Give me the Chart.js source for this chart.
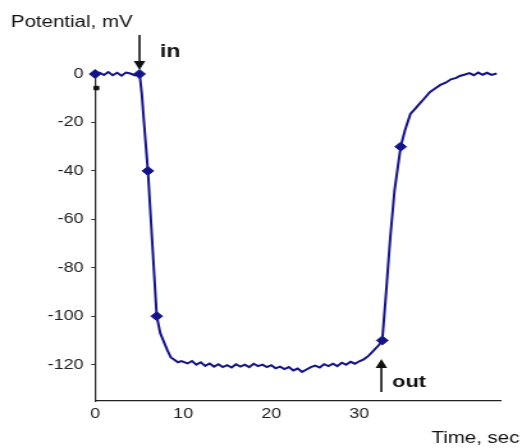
<!DOCTYPE html>
<html>
<head>
<meta charset="utf-8">
<script src="https://cdn.jsdelivr.net/npm/chart.js@4"></script>
<style>
    html, body { margin: 0; padding: 0; background: #fff; }
    /* the source picture is stretched sideways, so the canvas is too */
    #chart { width: 522px !important; height: 448px !important; display: block; }
</style>
</head>
<body>
<canvas id="chart" width="408" height="448" style="width:522px;height:448px"></canvas>
<script>
// data
var time = [0, 0.5, 1, 1.5, 2, 2.5, 3, 3.5, 4, 4.5, 5, 5.1, 5.3, 5.6, 6.0, 6.5, 7.0, 7.4, 7.8, 8.2, 8.6, 9.0, 9.4, 9.8,
    10.5, 11, 11.5, 12, 12.5, 13, 13.5, 14, 14.5, 15, 15.5, 16, 16.5, 17, 17.5, 18, 18.5, 19, 19.5, 20,
    20.5, 21, 21.5, 22, 22.5, 23, 23.5, 24, 24.5, 25, 25.5, 26, 26.5, 27, 27.5, 28, 28.5, 29, 29.5, 30, 30.5, 31,
    31.4, 31.8, 32.2, 32.6, 33.0, 33.5, 34.0, 34.7, 35.2, 35.8, 36.3, 36.9, 37.4, 38, 38.6, 39.2, 39.8, 40.4,
    41, 41.4, 42, 42.5, 43, 43.5, 44, 44.5, 45, 45.6];
var potential = [0, 0.6, -0.4, 0.8, -0.5, 0.5, -0.7, 0.6, 0.2, -0.5, 0.6, -1.5, -8, -22, -40, -70, -100, -107, -110.5, -114, -117, -118, -119, -118.5,
    -119.5, -118.5, -120, -119, -120.5, -119.5, -120.8, -119.8, -121, -120.2, -121.2, -119.8, -120.8, -120, -121, -119.6, -120.6, -120, -121, -120.2,
    -121.5, -120.8, -121.8, -121, -122.4, -121.6, -123, -122, -121, -120.4, -121.2, -119.8, -120.6, -119.6, -120.6, -119.2, -120, -118.8, -119.6, -118.6, -117.8, -116.5,
    -115, -113.5, -112, -110, -92, -68, -48, -30, -23, -16.5, -14.5, -12, -10, -7.5, -6, -4.5, -3.6, -2.2,
    -1.6, -0.8, -0.2, 0.4, -0.5, 0.6, -0.3, 0.5, -0.4, 0.2];

var markerTime = [0, 5.05, 6.0, 7.0, 32.6, 34.7];
var markerPotential = [0, 0, -40, -100, -110, -30];

var strayTime = [0.15];
var strayPotential = [-5.8];

var xTicks = [0, 10, 20, 30];
var yTicks = [0, -20, -40, -60, -80, -100, -120];

var inTime = 5.05;
var outTime = 32.5;

var navy = '#14148a';
var fontName = '"Liberation Sans", Arial, sans-serif';

function toPoints(xs, ys) {
    var pts = [];
    for (var i = 0; i < xs.length; i++) {
        pts.push({ x: xs[i], y: ys[i] });
    }
    return pts;
}

function drawArrow(ctx, px, yTail, yTip) {
    var dir = yTip > yTail ? 1 : -1;
    ctx.beginPath();
    ctx.moveTo(px, yTail);
    ctx.lineTo(px, yTip - dir * 6);
    ctx.stroke();
    ctx.beginPath();
    ctx.moveTo(px, yTip);
    ctx.lineTo(px - 4.5, yTip - dir * 9);
    ctx.lineTo(px + 4.5, yTip - dir * 9);
    ctx.closePath();
    ctx.fill();
}

var labelsPlugin = {
    id: 'labels',
    afterDraw: function(chart) {
        var ctx = chart.ctx;
        var xs = chart.scales.x;
        var inX = xs.getPixelForValue(inTime);
        var outX = xs.getPixelForValue(outTime);

        ctx.save();
        ctx.fillStyle = '#111';
        ctx.strokeStyle = '#111';
        ctx.lineWidth = 1.6;
        ctx.textBaseline = 'alphabetic';

        ctx.font = '16px ' + fontName;
        ctx.textAlign = 'left';
        ctx.fillText('Potential, mV', 8.5, 27);
        ctx.textAlign = 'right';
        ctx.fillText('Time, sec', 406, 443);

        drawArrow(ctx, inX, 35, 70);
        drawArrow(ctx, outX, 392, 359);

        ctx.font = 'bold 18px ' + fontName;
        ctx.textAlign = 'left';
        ctx.fillText('in', inX + 16, 57);
        ctx.font = 'bold 17px ' + fontName;
        ctx.fillText('out', outX + 8.5, 387);
        ctx.restore();
    }
};

var chart = new Chart(document.getElementById('chart'), {
    type: 'line',
    data: {
        datasets: [
            {
                data: toPoints(time, potential),
                borderColor: navy,
                borderWidth: 2,
                pointRadius: 0,
                tension: 0,
                clip: false
            },
            {
                data: toPoints(markerTime, markerPotential),
                showLine: false,
                pointStyle: 'rectRot',
                pointRadius: 4.5,
                backgroundColor: navy,
                borderColor: navy,
                clip: false
            },
            {
                data: toPoints(strayTime, strayPotential),
                showLine: false,
                pointStyle: 'rect',
                pointRadius: 2.5,
                backgroundColor: '#111',
                borderColor: '#111',
                clip: false
            }
        ]
    },
    options: {
        responsive: false,
        animation: false,
        devicePixelRatio: 1,
        layout: { padding: { left: 0, top: 74, right: 17, bottom: 0 } },
        plugins: {
            legend: { display: false },
            tooltip: { enabled: false }
        },
        scales: {
            x: {
                type: 'linear',
                min: 0,
                max: 46,
                afterBuildTicks: function(scale) {
                    scale.ticks = xTicks.map(function(v) { return { value: v }; });
                },
                afterFit: function(scale) { scale.height = 47; },
                grid: { display: false },
                border: { display: true, color: '#222', width: 1.2 },
                ticks: {
                    color: '#222',
                    font: { family: fontName, size: 14 },
                    padding: -3,
                    maxRotation: 0
                }
            },
            y: {
                min: -135,
                max: 0,
                afterBuildTicks: function(scale) {
                    scale.ticks = yTicks.map(function(v) { return { value: v }; });
                },
                afterFit: function(scale) { scale.width = 74.3; },
                grid: { display: true, drawOnChartArea: false, drawTicks: true, tickLength: 3, color: '#333' },
                border: { display: true, color: '#222', width: 1.2 },
                ticks: {
                    color: '#222',
                    font: { family: fontName, size: 14 },
                    padding: 6
                }
            }
        }
    },
    plugins: [labelsPlugin]
});
</script>
</body>
</html>
